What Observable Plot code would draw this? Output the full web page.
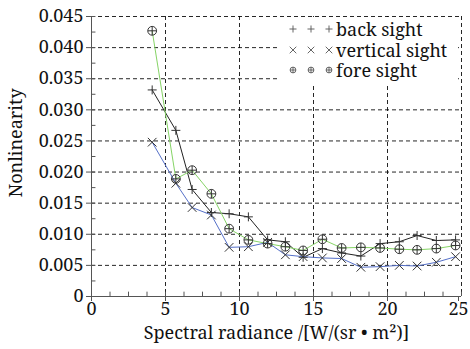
<!DOCTYPE html>
<html><head><meta charset="utf-8">
<script src="https://cdn.jsdelivr.net/npm/d3@7"></script>
<script src="https://cdn.jsdelivr.net/npm/@observablehq/plot@0.6"></script>
<style>
body{margin:0;background:#fff;}
#wrap{position:relative;width:470px;height:349px;font-family:'Noto Serif',serif;}
#legend{position:absolute;left:278px;top:17px;width:180px;height:66px;background:#fff;font-size:18px;line-height:20px;color:#111;}
#legend .row{position:absolute;left:8px;height:20px;display:flex;align-items:center;white-space:nowrap;}
#legend .row span{display:inline-block;height:20px;line-height:20px;}
#legend svg{display:block;}
#ylabel{position:absolute;left:15px;top:143px;transform:translate(-50%,-50%) rotate(-90deg);font-size:18px;line-height:20px;white-space:nowrap;color:#111;}
</style>
</head><body>
<div id="wrap"><div id="chart"></div><div id="legend"></div><div id="ylabel"></div></div>
<script>
const radiance = [4.1, 5.7, 6.8, 8.1, 9.3, 10.6, 11.9, 13.1, 14.3, 15.6, 16.9, 18.2, 19.5, 20.8, 22.0, 23.3, 24.6];
const backSight = [0.0332, 0.0267, 0.0172, 0.0135, 0.0133, 0.0128, 0.0091, 0.0088, 0.0063, 0.0077, 0.0070, 0.0065, 0.0085, 0.0088, 0.0098, 0.0090, 0.0091];
const verticalSight = [0.0248, 0.0182, 0.0143, 0.0131, 0.0079, 0.0080, 0.0087, 0.0067, 0.0064, 0.0062, 0.0061, 0.0047, 0.0048, 0.0050, 0.0049, 0.0055, 0.0064];
const foreSight = [0.0427, 0.0189, 0.0203, 0.0165, 0.0109, 0.0091, 0.0085, 0.0080, 0.0074, 0.0092, 0.0078, 0.0079, 0.0078, 0.0076, 0.0075, 0.0077, 0.0082];
const seriesNames = ["back sight", "vertical sight", "fore sight"];
const xLabel = "Spectral radiance /[W/(sr • m²)]";
const yLabel = "Nonlinearity";
const xTicks = [0, 5, 10, 15, 20, 25];
const yTicks = [0, 0.005, 0.010, 0.015, 0.020, 0.025, 0.030, 0.035, 0.040, 0.045];
const xMinor = d3.range(0, 25.01, 1.25);
const yMinor = d3.range(0, 0.04501, 0.0025);

const back = radiance.map((x, i) => ({x, y: backSight[i]}));
const vert = radiance.map((x, i) => ({x, y: verticalSight[i]}));
const fore = radiance.map((x, i) => ({x, y: foreSight[i]}));

const lineColors = {"back sight": "#222222", "vertical sight": "#5570c8", "fore sight": "#86d466"};
const markColor = "#333";
const xLast = xTicks[xTicks.length - 1];

const plot = Plot.plot({
  width: 470, height: 349,
  marginLeft: 91, marginRight: 9, marginTop: 16, marginBottom: 53,
  style: {fontFamily: "'Noto Serif', serif", fontSize: "18px", color: "#111", background: "#fff"},
  x: {domain: [0, 25]},
  y: {domain: [0, 0.045]},
  marks: [
    Plot.gridX(xTicks.filter(d => d > 0), {stroke: "#000", strokeOpacity: 0.85, strokeDasharray: "4,3"}),
    Plot.gridY(yTicks.filter(d => d > 0), {stroke: "#000", strokeOpacity: 0.85, strokeDasharray: "4,3"}),
    Plot.ruleX(xMinor, {y1: 0, y2: 0.0007, stroke: "#555"}),
    Plot.ruleY(yMinor, {x1: 0, x2: 0.3, stroke: "#555"}),
    Plot.ruleX([0], {stroke: "#555"}),
    Plot.ruleY([0], {stroke: "#555"}),
    Plot.axisX({ticks: xTicks.filter(d => d < xLast), tickSize: 5, tickPadding: 1, stroke: "#555", label: xLabel, labelAnchor: "center", labelArrow: "none", labelOffset: 42}),
    Plot.axisX({ticks: [xLast], tickSize: 5, tickPadding: 1, stroke: "#555", label: null, dx: -3}),
    Plot.ruleX([xLast], {y1: 0, y2: 0, stroke: "#555"}),
    Plot.axisY({ticks: yTicks, tickSize: 5, tickPadding: 3, stroke: "#555", tickFormat: d => d === 0 ? "0" : d3.format(".3f")(d), label: null}),
    Plot.line(back, {x: "x", y: "y", stroke: lineColors["back sight"], strokeWidth: 1}),
    Plot.line(vert, {x: "x", y: "y", stroke: lineColors["vertical sight"], strokeWidth: 1}),
    Plot.line(fore, {x: "x", y: "y", stroke: lineColors["fore sight"], strokeWidth: 1}),
    Plot.dot(back, {x: "x", y: "y", symbol: "plus", r: 3.0, stroke: markColor, strokeWidth: 1}),
    Plot.dot(vert, {x: "x", y: "y", symbol: "times", r: 4.0, stroke: markColor, strokeWidth: 1}),
    Plot.dot(fore, {x: "x", y: "y", symbol: "circle", r: 4.4, fill: "none", stroke: markColor, strokeWidth: 1}),
    Plot.dot(fore, {x: "x", y: "y", symbol: "plus", r: 2.9, stroke: markColor, strokeWidth: 1})
  ]
});
document.getElementById("chart").appendChild(plot);
document.getElementById("ylabel").textContent = yLabel;

// legend
const legend = d3.select("#legend");
const symbolsFor = {"back sight": [["plus", 18]], "vertical sight": [["times", 30]], "fore sight": [["circle", 26], ["plus", 13]]};
const d3sym = {plus: d3.symbolPlus, times: d3.symbolTimes, circle: d3.symbolCircle};
seriesNames.forEach((name, i) => {
  const row = legend.append("div").attr("class", "row").style("top", (2 + i * 20.5) + "px");
  const svg = row.append("svg").attr("width", 50).attr("height", 20);
  [7, 25, 43].forEach(cx => {
    symbolsFor[name].forEach(([s, size]) => {
      svg.append("path").attr("d", d3.symbol(d3sym[s], size)()).attr("transform", `translate(${cx},10)`)
        .attr("fill", "none").attr("stroke", "#555").attr("stroke-width", 0.9);
    });
  });
  row.append("span").text(name);
});
</script>
</body></html>
